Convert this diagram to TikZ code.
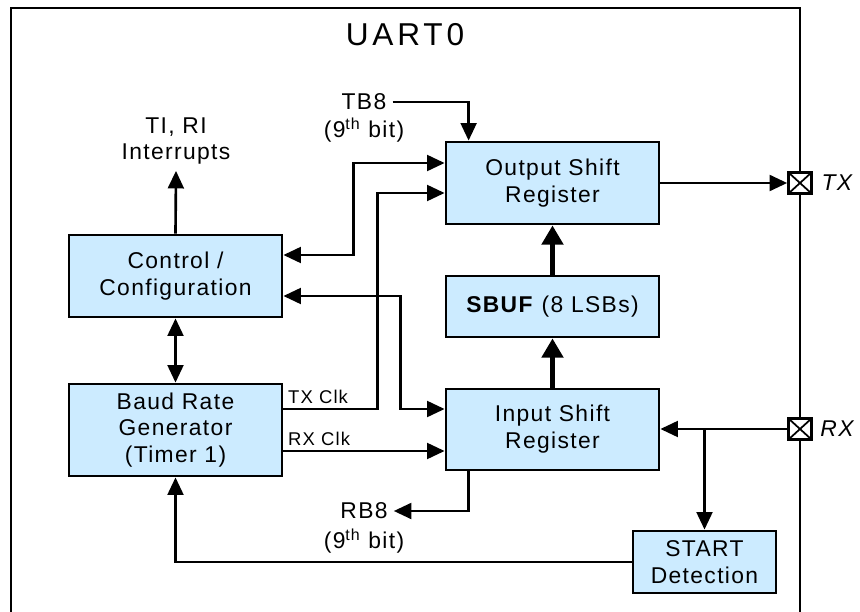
\documentclass[tikz,border=0pt]{standalone}
\usepackage{fontspec}
\setmainfont[LetterSpace=6]{Liberation Sans}
\newfontfamily\titlefont[LetterSpace=12]{Liberation Sans}
\usetikzlibrary{arrows.meta}
\definecolor{boxblue}{HTML}{CCEBFF}

\begin{document}
\begin{tikzpicture}[
    x=0.02cm, y=-0.02cm,
    >={Triangle[length=10pt,width=9pt]},
    block/.style={draw, fill=boxblue, line width=1.6pt, inner sep=0pt,
                  minimum width=4.26cm, align=center,
                  font=\fontsize{13}{15.3}\selectfont},
    lbl/.style={align=center, font=\fontsize{13}{15.3}\selectfont},
    clk/.style={font=\fontsize{10.5}{12}\selectfont, inner sep=2pt},
    sig/.style={line width=1.5pt},
    bus/.style={line width=3pt, -{Triangle[length=11pt,width=12pt]}},
    pinbox/.style={draw, fill=white, line width=1.5pt, inner sep=0pt,
                   minimum width=.46cm, minimum height=.42cm,
                   path picture={\draw[line width=1pt]
                     (path picture bounding box.north west) -- (path picture bounding box.south east)
                     (path picture bounding box.north east) -- (path picture bounding box.south west);}}]
  \useasboundingbox (0,0) rectangle (860,612);

  % frame, open at the bottom
  \draw[line width=1.5pt] (11,620) |- (800,8) -- (800,620);
  \node[font=\titlefont\fontsize{18}{20}\selectfont] (title) at (405,35) {UART0};

  % blocks
  \node[block, minimum height=1.64cm] (out)  at (552.5,183)   {Output Shift\\Register};
  \node[block, minimum height=1.22cm] (sbuf) at (552.5,306.5) {\textbf{SBUF} (8 LSBs)};
  \node[block, minimum height=1.62cm] (in)   at (552.5,429.5) {Input Shift\\Register};
  \node[block, minimum height=1.64cm] (ctrl) at (175.5,276)   {Control /\\Configuration};
  \node[block, minimum height=1.84cm] (baud) at (175.5,430)   {Baud Rate\\Generator\\(Timer 1)};
  \node[block, minimum height=1.24cm, minimum width=2.86cm] (start) at (704.5,562) {START\\Detection};

  % pins
  \node[pinbox] (txpin) at (800,183) {};
  \node[pinbox] (rxpin) at (800,429) {};
  \node[lbl] (txlbl) at (838,183) {\textit{TX}};
  \node[lbl] (rxlbl) at (838,429) {\textit{RX}};

  % free labels
  \node[lbl] (tiri) at (176,141) {TI, RI\\Interrupts};
  \node[lbl] (tb8)  at (364,102) {TB8};
  \node[lbl] (tb8b) at (364,130) {(9\textsuperscript{th} bit)};
  \node[lbl] (rb8)  at (364,511) {RB8};
  \node[lbl] (rb8b) at (364,541) {(9\textsuperscript{th} bit)};

  % connections
  \draw[sig, ->] (ctrl.north) -- (tiri.south);
  \draw[sig, <->] (ctrl.south) -- (baud.north);
  \draw[sig, ->] (tb8.east) -| ([xshift=.48cm]out.north west);
  \draw[sig, <->] ([yshift=.42cm]ctrl.east) -- ++(70,0) |- ([yshift=.4cm]out.west);
  \draw[sig, ->] ([yshift=.42cm]baud.east) -- ++(94,0)
      node[clk, pos=0, anchor=south west] (txclk) {TX Clk}
      |- ([yshift=-.2cm]out.west);
  \draw[sig, <->] ([yshift=-.4cm]ctrl.east) -- ++(117,0) |- ([yshift=.41cm]in.west);
  \draw[sig, ->] ([yshift=-.42cm]baud.east) -- ([yshift=-.42cm]baud.east -| in.west)
      node[clk, pos=0, anchor=south west] (rxclk) {RX Clk};
  \draw[bus] (in.north) -- (sbuf.south);
  \draw[bus] (sbuf.north) -- (out.south);
  \draw[sig, ->] (out.east) -- (txpin.west);
  \draw[sig, ->] (rxpin.west) -- (rxpin.west -| in.east);
  \draw[sig, ->] (rxpin.west -| start.north) -- (start.north);
  \draw[sig, ->] ([xshift=.48cm]in.south west) |- (rb8.east);
  \draw[sig, ->] (start.west) -| (baud.south);
\end{tikzpicture}
\end{document}
